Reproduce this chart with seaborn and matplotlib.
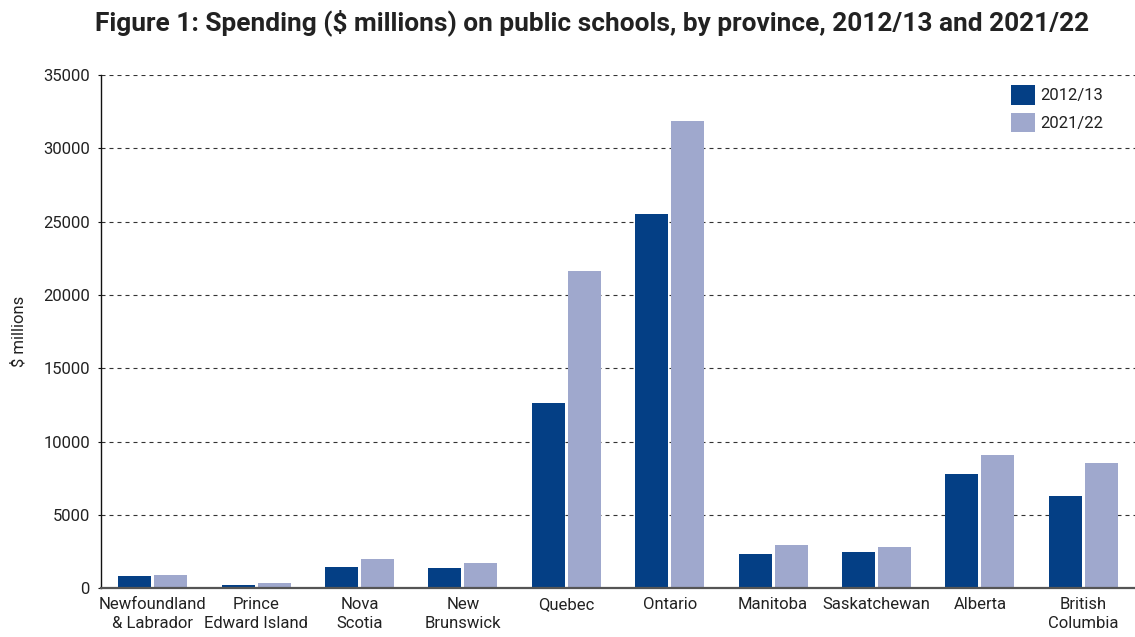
import matplotlib
matplotlib.use("Agg")
import matplotlib.pyplot as plt
import pandas as pd
import seaborn as sns

# Provincial public school spending, $ millions
provinces = [
    "Newfoundland\n& Labrador", "Prince\nEdward Island", "Nova\nScotia", "New\nBrunswick",
    "Quebec", "Ontario", "Manitoba", "Saskatchewan", "Alberta", "British\nColumbia",
]
spend_2012 = [830, 220, 1430, 1360, 12630, 25520, 2320, 2460, 7780, 6280]
spend_2021 = [900, 340, 1990, 1710, 21630, 31860, 2930, 2800, 9070, 8530]
years = ["2012/13", "2021/22"]
yticks = [0, 5000, 10000, 15000, 20000, 25000, 30000, 35000]

df = pd.DataFrame({
    "Province": provinces * 2,
    "Year": [years[0]] * len(provinces) + [years[1]] * len(provinces),
    "Spending": spend_2012 + spend_2021,
})

sns.set_theme(style="white")
plt.rcParams["font.family"] = ["Roboto", "DejaVu Sans"]

fig = plt.figure(figsize=(11.35, 6.37), dpi=100)
ax = fig.add_axes([101 / 1135, 1 - 588.3 / 637, 1 - 101 / 1135, (588.3 - 75) / 637])

sns.barplot(
    data=df, x="Province", y="Spending", hue="Year",
    palette=["#043F85", "#9FA8CD"], width=0.696, gap=0.083,
    saturation=1, linewidth=0, ax=ax, legend=True,
)

ax.set_xlim(-0.5, len(provinces) - 0.5)
ax.set_ylim(0, 35000)
ax.set_yticks(yticks)
ax.set_axisbelow(True)
ax.yaxis.grid(True, color="#333333", linewidth=0.8, linestyle=(0, (3.6, 3.6)))
ax.xaxis.grid(False)

for side in ("top", "right"):
    ax.spines[side].set_visible(False)
ax.spines["left"].set_color("#111111")
ax.spines["left"].set_linewidth(1.0)
ax.spines["bottom"].set_color("#555555")
ax.spines["bottom"].set_linewidth(1.6)

ax.tick_params(axis="y", which="major", left=True, length=2.5, width=0.8,
               color="#111111", pad=5.5, labelsize=12, labelcolor="#222222")
ax.tick_params(axis="x", which="major", bottom=False, length=0, pad=6.5,
               labelsize=12, labelcolor="#222222")
for lab in ax.get_xticklabels():
    lab.set_linespacing(1.3)

ax.set_xlabel("")
ax.set_ylabel("$ millions", fontsize=12, color="#222222")
ax.yaxis.set_label_coords(-0.0725, 0.5)

handles, labels = ax.get_legend_handles_labels()
ax.legend(
    handles, labels, loc="upper left",
    bbox_to_anchor=(1011 / 1135, 1 - 85 / 637), bbox_transform=fig.transFigure,
    frameon=False, fontsize=12, handlelength=1.44, handleheight=1.44,
    handletextpad=0.3, labelspacing=0.48, borderpad=0, borderaxespad=0,
    labelcolor="#222222",
)

fig.text(592 / 1135, 1 - 23 / 637,
         "Figure 1: Spending ($ millions) on public schools, by province, 2012/13 and 2021/22",
         ha="center", va="center", fontsize=18.9, fontweight="bold", color="#222222")

fig.savefig("out.png", dpi=100, facecolor="white")
